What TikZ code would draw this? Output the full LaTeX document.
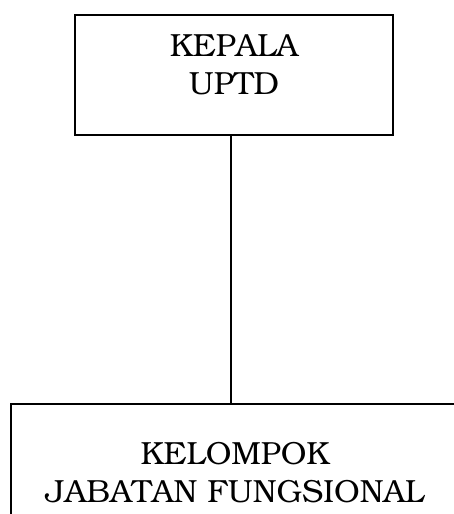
\documentclass[tikz,border=0pt]{standalone}
\usepackage[T1]{fontenc}
\usepackage{bookman}
\begin{document}
\begin{tikzpicture}[x=1pt,y=-1pt,
  box/.style={draw=black,line width=1.3pt,inner sep=0pt},
  lbl/.style={align=center,font=\fontsize{32}{38}\selectfont,inner sep=0pt}]
\clip (0,0) rectangle (454,514);
\fill[white] (0,0) rectangle (454,514);
\node[box,minimum width=318pt,minimum height=120pt] (kepala) at (234,75) {};
\node[lbl] (kepalatxt) at (234,65) {KEPALA\\UPTD};
\node[box,minimum width=448pt,minimum height=136pt] (kelompok) at (235,472) {};
\node[lbl] (kelompoktxt) at (235,473) {KELOMPOK\\JABATAN FUNGSIONAL};
\draw[line width=1.3pt] ([xshift=-3pt]kepala.south) -- ([xshift=-3pt]kepala.south |- kelompok.north);
\end{tikzpicture}
\end{document}
